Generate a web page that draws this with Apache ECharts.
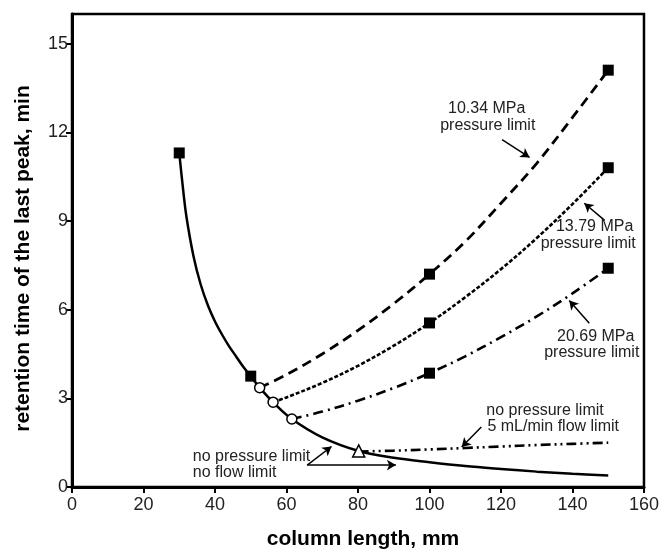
<!DOCTYPE html>
<html>
<head>
    <meta charset="UTF-8" />
    <title>retention time vs column length</title>
    <style>
        html, body { margin: 0; padding: 0; background: #fff; }
        #chart { width: 662px; height: 555px; }
    </style>
</head>
<body>
<div id="chart"></div>
<script src="https://cdn.jsdelivr.net/npm/echarts@6/dist/echarts.min.js"></script>
<script type="text/javascript">
    // no pressure limit, no flow limit (solid)
    var noLimit = [[30, 11.3], [31, 10.15], [32, 9.15], [34, 7.8], [36, 6.85], [38, 6.15], [40, 5.6], [42, 5.15],
        [44, 4.75], [46, 4.4], [48, 4.05], [50, 3.75], [52.5, 3.36], [56.25, 2.87], [61.5, 2.3], [70, 1.68],
        [80.2, 1.22], [90, 0.99], [100, 0.84], [110, 0.71], [120, 0.61], [130, 0.52], [140, 0.45], [150, 0.39]];
    // 10.34 MPa (dashed)
    var p1034 = [[52.5, 3.36], [60, 3.8], [70, 4.5], [80, 5.3], [90, 6.2], [100, 7.2], [110, 8.3], [120, 9.6],
        [130, 10.95], [140, 12.5], [150, 14.1]];
    // 13.79 MPa (dotted)
    var p1379 = [[56.25, 2.87], [60, 3.03], [70, 3.52], [80, 4.1], [90, 4.78], [100, 5.55], [110, 6.42],
        [120, 7.37], [130, 8.42], [140, 9.57], [150, 10.8]];
    // 20.69 MPa (dash-dot)
    var p2069 = [[61.5, 2.3], [70, 2.55], [80, 2.92], [90, 3.35], [100, 3.85], [110, 4.42], [120, 5.07],
        [130, 5.77], [140, 6.55], [150, 7.4]];
    // 5 mL/min flow limit (dash-dot-dot)
    var flow5 = [[80.2, 1.2], [90, 1.23], [100, 1.27], [110, 1.32], [120, 1.37], [130, 1.42], [140, 1.46], [150, 1.5]];

    var squares = [[30, 11.3], [50, 3.75], [100, 7.2], [150, 14.1], [100, 5.55], [150, 10.8], [100, 3.85], [150, 7.4]];
    var circles = [[52.5, 3.36], [56.25, 2.87], [61.5, 2.3]];
    var triangles = [[80.2, 1.22]];

    var xTicks = { min: 0, max: 160, step: 20 };
    var yTicks = { min: 0, max: 16, step: 3 };

    // annotations: [text, x, y, align]
    var notes = [
        ['10.34 MPa', 116, 12.8, 'center'],
        ['pressure limit', 116.3, 12.22, 'center'],
        ['13.79 MPa', 146.2, 8.82, 'center'],
        ['pressure limit', 144.4, 8.22, 'center'],
        ['20.69 MPa', 146.5, 5.1, 'center'],
        ['pressure limit', 145.4, 4.53, 'center'],
        ['no pressure limit', 115.9, 2.59, 'left'],
        ['5 mL/min flow limit', 116.2, 2.04, 'left'],
        ['no pressure limit', 33.8, 1.02, 'left'],
        ['no flow limit', 33.8, 0.49, 'left']
    ];
    // arrows: [fromX, fromY, toX, toY]
    var arrows = [
        [120.3, 11.75, 128, 11.15],
        [149, 9.02, 143.3, 9.6],
        [144.7, 5.54, 139.1, 6.31],
        [114.5, 2.03, 109, 1.35],
        [65.8, 0.74, 72.6, 1.37],
        [65.8, 0.74, 90.6, 0.74]
    ];

    var chart = echarts.init(document.getElementById('chart'));
    var font = '"Liberation Sans", Arial, sans-serif';

    function lineSeries (name, data, dash, width) {
        return {
            name: name,
            type: 'line',
            data: data,
            smooth: 0.35,
            showSymbol: false,
            symbol: 'none',
            lineStyle: { color: '#000', width: width, type: dash, cap: 'butt' },
            z: 2
        };
    }

    var option = {
        backgroundColor: '#fff',
        animation: false,
        grid: {
            left: 72, right: 15, top: 14, bottom: 58,
            show: true, borderColor: '#000', borderWidth: 2.5
        },
        xAxis: {
            type: 'value',
            min: xTicks.min, max: xTicks.max, interval: xTicks.step,
            name: 'column length, mm',
            nameLocation: 'middle',
            nameGap: 42,
            nameTextStyle: { fontFamily: font, fontWeight: 'bold', fontSize: 21, color: '#000', padding: [0, 0, 0, 10] },
            axisLine: { lineStyle: { color: '#000', width: 3 } },
            axisTick: { show: true, length: 6, lineStyle: { color: '#000', width: 2 } },
            axisLabel: { fontFamily: font, fontSize: 18, color: '#222', margin: 9 },
            splitLine: { show: false }
        },
        yAxis: {
            type: 'value',
            min: yTicks.min, max: yTicks.max, interval: yTicks.step,
            name: 'retention time of the last peak, min',
            nameLocation: 'middle',
            nameGap: 38,
            nameTextStyle: { fontFamily: font, fontWeight: 'bold', fontSize: 21, color: '#000', padding: [0, 16, 0, 0] },
            axisLine: { lineStyle: { color: '#000', width: 3 } },
            axisTick: { show: true, length: 6, lineStyle: { color: '#000', width: 2 } },
            axisLabel: { fontFamily: font, fontSize: 18, color: '#222', margin: 4, showMaxLabel: false },
            splitLine: { show: false }
        },
        series: [
            lineSeries('no limit', noLimit, 'solid', 2.5),
            lineSeries('10.34 MPa', p1034, [10, 6], 2.8),
            lineSeries('13.79 MPa', p1379, [4, 2], 2.6),
            lineSeries('20.69 MPa', p2069, [10, 5, 2, 5], 2.6),
            lineSeries('5 mL/min', flow5, [10, 4, 2, 4, 2, 4], 2.6),
            {
                name: 'arrows',
                type: 'line',
                data: [],
                markLine: {
                    silent: true,
                    symbol: ['none', 'arrow'],
                    symbolSize: [8, 9],
                    label: { show: false },
                    lineStyle: { color: '#000', width: 1.5, type: 'solid' },
                    data: arrows.map(function (a) {
                        return [{ coord: [a[0], a[1]] }, { coord: [a[2], a[3]] }];
                    })
                }
            },
            {
                name: 'squares',
                type: 'scatter',
                data: squares,
                symbol: 'rect',
                symbolSize: 11,
                itemStyle: { color: '#000', opacity: 1 },
                z: 5
            },
            {
                name: 'circles',
                type: 'scatter',
                data: circles,
                symbol: 'circle',
                symbolSize: 10,
                itemStyle: { color: '#fff', borderColor: '#000', borderWidth: 1.5, opacity: 1 },
                z: 5
            },
            {
                name: 'triangle',
                type: 'scatter',
                data: triangles,
                symbol: 'triangle',
                symbolSize: 12,
                itemStyle: { color: '#fff', borderColor: '#000', borderWidth: 1.5, opacity: 1 },
                z: 5
            }
        ]
    };
    chart.setOption(option);

    var graphics = notes.map(function (n) {
        var p = chart.convertToPixel({ gridIndex: 0 }, [n[1], n[2]]);
        return {
            type: 'text',
            x: p[0],
            y: p[1],
            z: 10,
            style: {
                text: n[0],
                font: '16px ' + font,
                fill: '#222',
                align: n[3],
                verticalAlign: 'middle'
            }
        };
    });
    chart.setOption({ graphic: graphics });
</script>
</body>
</html>
